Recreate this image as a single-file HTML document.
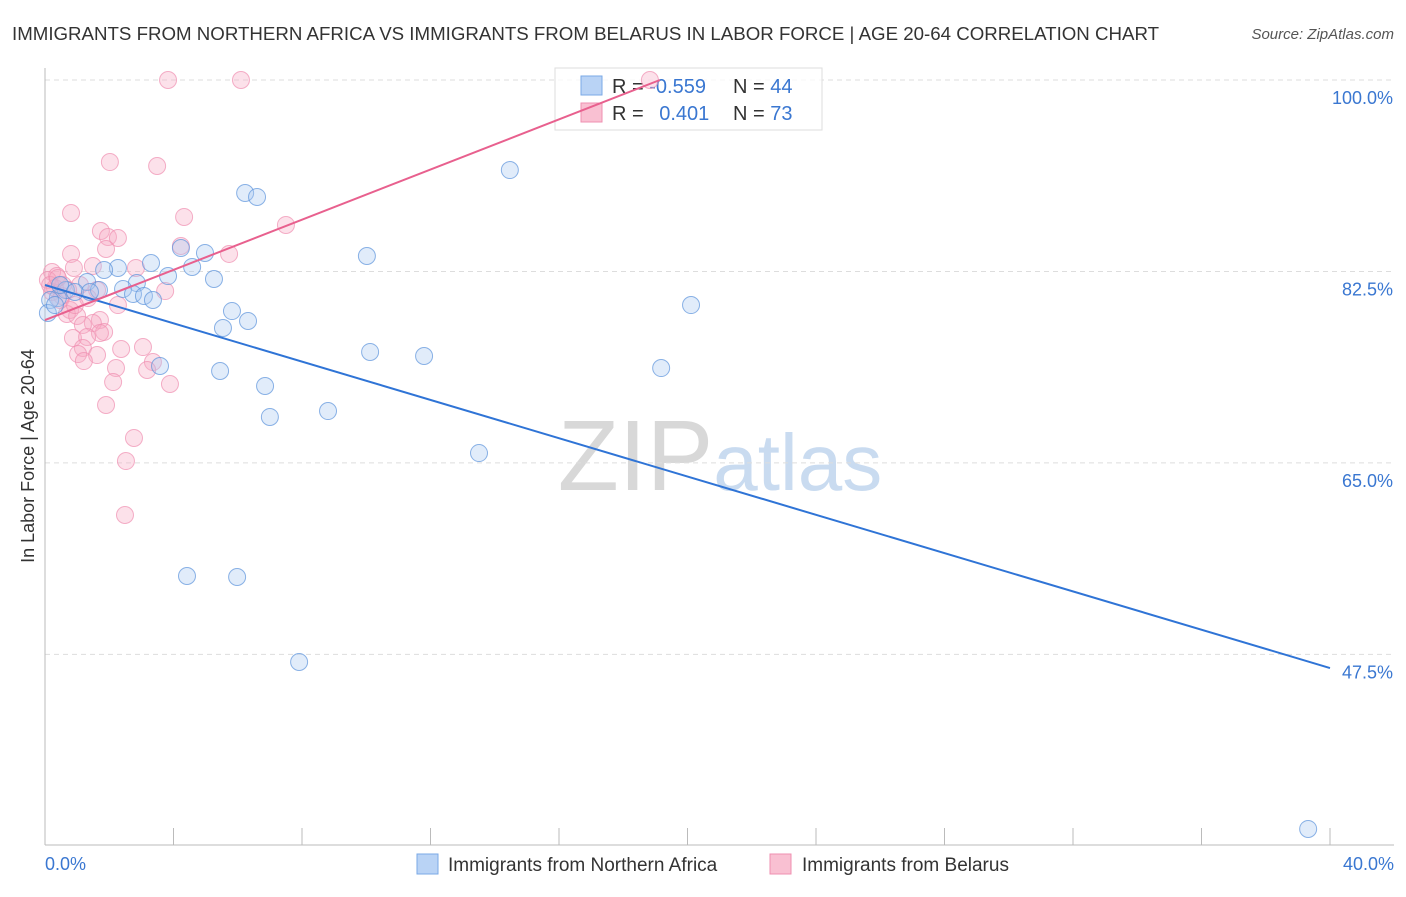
<!DOCTYPE html>
<html><head><meta charset="utf-8"><style>
body{margin:0;background:#fff;font-family:"Liberation Sans",sans-serif}
svg text{font-family:"Liberation Sans",sans-serif}
</style></head><body>
<svg width="1406" height="892" xmlns="http://www.w3.org/2000/svg">
<text x="12" y="40" font-size="18.7" fill="#333">IMMIGRANTS FROM NORTHERN AFRICA VS IMMIGRANTS FROM BELARUS IN LABOR FORCE | AGE 20-64 CORRELATION CHART</text>
<text x="1394" y="39" font-size="15" fill="#555" font-style="italic" text-anchor="end">Source: ZipAtlas.com</text>
<text x="720" y="490" font-size="100" fill="#ddd" text-anchor="middle" font-family="Liberation Serif"><tspan fill="#d8d8d8">ZIP</tspan><tspan fill="#c9dbf0" font-family="Liberation Sans" font-size="80">atlas</tspan></text>
<g id="grid"></g>
<g id="axes"></g>
<text transform="translate(34,456) rotate(-90)" font-size="18" fill="#333" text-anchor="middle">In Labor Force | Age 20-64</text>
<g>
<rect x="555" y="68" width="267" height="62" fill="#fff" fill-opacity="0.75" stroke="#ddd"/>
<rect x="581" y="76" width="21" height="19" fill="#b9d3f5" stroke="#7aa8e6"/>
<rect x="581" y="103" width="21" height="19" fill="#f9c0d2" stroke="#ef8fb0"/>
<text x="612" y="93" font-size="20" fill="#333">R = <tspan fill="#3a77d1">-0.559</tspan></text>
<text x="733" y="93" font-size="20" fill="#333">N = <tspan fill="#3a77d1">44</tspan></text>
<text x="612" y="120" font-size="20" fill="#333">R = <tspan fill="#3a77d1" dx="10">0.401</tspan></text>
<text x="733" y="120" font-size="20" fill="#333">N = <tspan fill="#3a77d1">73</tspan></text>
</g>
<g id="marks"></g>
<g>
<rect x="417" y="854" width="21" height="20" fill="#b9d3f5" stroke="#7aa8e6"/>
<text x="448" y="871" font-size="19" fill="#333">Immigrants from Northern Africa</text>
<rect x="770" y="854" width="21" height="20" fill="#f9c0d2" stroke="#ef8fb0"/>
<text x="802" y="871" font-size="19" fill="#333">Immigrants from Belarus</text>
</g>
<script>
const yTicks=[100,82.5,65,47.5];
const yTickLabels=["100.0%","82.5%","65.0%","47.5%"];
const xTickLabels=["0.0%","40.0%"];
const blueX=[14.47,6.23,6.60,10.02,4.98,4.23,3.30,4.58,2.27,1.84,5.26,3.83,2.86,1.31,2.43,1.68,2.74,3.08,3.36,0.65,0.40,0.16,0.09,5.82,6.32,5.54,20.11,10.12,11.80,3.58,5.45,19.18,6.85,8.81,7.00,13.51,4.42,5.98,7.91,39.32,0.47,0.93,1.40,0.31];
const blueY=[91.77,89.67,89.31,83.91,84.19,84.64,83.27,82.91,82.82,82.63,81.81,82.08,81.44,81.54,80.90,80.80,80.44,80.26,79.89,80.80,80.07,79.89,78.70,78.88,77.97,77.33,79.43,75.14,74.77,73.86,73.40,73.67,72.03,69.74,69.20,65.90,54.66,54.57,46.80,31.54,81.26,80.62,80.62,79.43];
const pinkX=[3.83,6.10,18.83,2.02,3.49,0.81,4.33,7.50,1.74,1.96,2.27,4.23,0.81,1.90,5.73,1.49,2.83,0.90,0.22,0.37,0.09,0.56,1.09,1.62,3.74,0.22,0.53,1.34,2.27,0.78,0.68,1.00,1.71,1.49,1.18,1.84,0.87,1.71,1.31,3.05,2.37,1.18,1.03,1.62,3.36,1.21,2.21,3.18,2.12,3.89,1.90,2.77,2.52,2.49,0.31,0.47,0.72,0.16,0.93,0.40];
const pinkY=[100,100,100,92.50,92.14,87.84,87.48,86.75,86.20,85.65,85.56,84.83,84.10,84.55,84.10,83.00,82.82,82.82,82.45,82.08,81.72,81.26,81.26,80.80,80.71,80.62,80.26,80.07,79.43,78.98,78.61,78.43,78.06,77.79,77.61,76.97,76.42,76.87,76.51,75.59,75.41,75.50,74.95,74.86,74.22,74.31,73.67,73.49,72.39,72.21,70.29,67.28,65.17,60.24,80.99,79.89,80.80,81.26,79.43,81.90];
const blueLine=[[0,81.26],[40,46.25]];
const pinkLine=[[0,78.06],[19.14,100]];
const NS="http://www.w3.org/2000/svg";
const xs=v=>45+v*32.125, ys=v=>80+(100-v)*10.94;
function mk(tag,attrs,parent){const e=document.createElementNS(NS,tag);for(const k in attrs)e.setAttribute(k,attrs[k]);document.getElementById(parent).appendChild(e);return e;}
yTicks.forEach((t,i)=>{
 const g=mk('line',{x1:45,x2:1394,y1:ys(t),y2:ys(t),stroke:'#ddd','stroke-dasharray':'5,4'},'grid');
 
 
 const tx=mk('text',{x:1393,y:ys(t)+24,'font-size':18,fill:'#3a77d1','text-anchor':'end'},'axes');
 tx.textContent=yTickLabels[i];
 
 
});
const ax=mk('line',{x1:45,x2:45,y1:68,y2:845,stroke:'#bbb'},'axes');


const bx=mk('line',{x1:45,x2:1394,y1:845,y2:845,stroke:'#bbb'},'axes');


for(let i=0;i<=10;i++){const tk=mk('line',{x1:xs(i*4),x2:xs(i*4),y1:828,y2:845,stroke:'#bbb'},'axes');
 
 }
[[0,'start',45],[40,'end',1394]].forEach((a,i)=>{const t=mk('text',{x:a[2],y:870,'font-size':18,fill:'#3a77d1','text-anchor':a[1]},'axes');t.textContent=xTickLabels[i];
 
 });
function pts(X,Y,fill,stroke,name){X.forEach((x,i)=>{const c=mk('circle',{cx:xs(x),cy:ys(Y[i]),r:8.5,fill:fill,'fill-opacity':0.35,stroke:stroke,'stroke-opacity':0.7,'stroke-width':1},'marks');
 
 });}
pts(pinkX,pinkY,'#f7a8c2','#ef8fb0','point-belarus');
pts(blueX,blueY,'#a9c8f0','#5b93dc','point-northern-africa');
const bl=mk('line',{x1:xs(blueLine[0][0]),y1:ys(blueLine[0][1]),x2:xs(blueLine[1][0]),y2:ys(blueLine[1][1]),stroke:'#2f74d6','stroke-width':2},'marks');


const pl=mk('line',{x1:xs(pinkLine[0][0]),y1:ys(pinkLine[0][1]),x2:xs(pinkLine[1][0]),y2:ys(pinkLine[1][1]),stroke:'#e8608e','stroke-width':2},'marks');


</script>
</svg>
</body></html>
